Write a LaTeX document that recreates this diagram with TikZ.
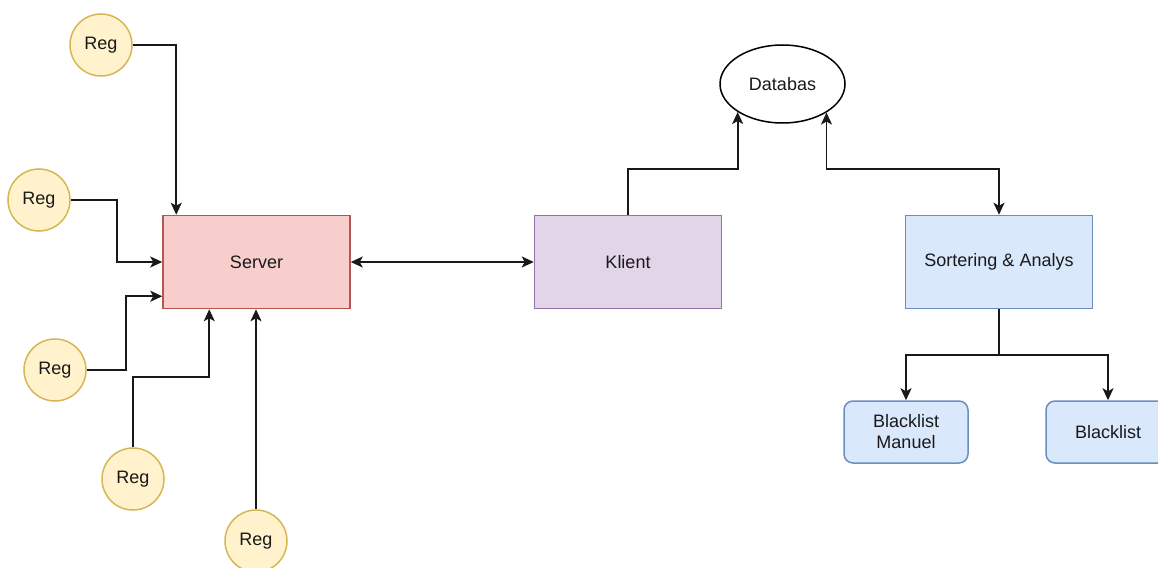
\documentclass[tikz,border=0pt]{standalone}
\usepackage{fontspec}
\setmainfont{Liberation Sans}
\usetikzlibrary{arrows.meta,shapes.geometric,calc}
\definecolor{regfill}{HTML}{FFF2CC}\definecolor{regline}{HTML}{D6B656}
\definecolor{srvfill}{HTML}{F8CECC}\definecolor{srvline}{HTML}{B85450}
\definecolor{klfill}{HTML}{E1D5E7}\definecolor{klline}{HTML}{9673A6}
\definecolor{bluefill}{HTML}{DAE8FC}\definecolor{blueline}{HTML}{6C8EBF}
\begin{document}
\begin{tikzpicture}[x=1pt,y=-1pt,
  every node/.style={font=\fontsize{18}{21}\selectfont, text=black!90},
  reg/.style={circle, draw=regline, fill=regfill, line width=1.5pt, minimum size=62pt, inner sep=0pt},
  box/.style={rectangle, line width=1.5pt, minimum width=187pt, minimum height=93pt, inner sep=0pt},
  leaf/.style={rectangle, rounded corners=9pt, draw=blueline, fill=bluefill, line width=1.5pt,
    minimum width=124pt, minimum height=62pt, inner sep=0pt, align=center},
  tip/.tip={Stealth[length=12pt,width=11pt,inset=3pt]},
  conn/.style={draw=black!90, line width=1.8pt, -tip},
  biconn/.style={draw=black!90, line width=1.8pt, tip-tip}]
\clip (0,0) rectangle (1158,567);
\useasboundingbox (0,0) rectangle (1158,567);

% sensor nodes
\node[reg] (r1) at (101,45) {Reg};
\node[reg] (r2) at (39,200) {Reg};
\node[reg] (r3) at (55,370) {Reg};
\node[reg] (r4) at (133,479) {Reg};
\node[reg] (r5) at (256,541) {Reg};

% main blocks
\node[box, draw=srvline, fill=srvfill] (srv) at (256.5,262) {Server};
\node[box, draw=klline, fill=klfill] (kl) at (628,262) {Klient};
\node[box, draw=blueline, fill=bluefill] (srt) at (999,262) {Sortering \& Analys};
\node[ellipse, draw=black, fill=white, line width=1.5pt, minimum width=125pt, minimum height=78pt, inner sep=0pt] (db) at (782.5,84) {Databas};

% lists
\node[leaf] (bm) at (906,432) {Blacklist\\Manuel};
\node[leaf] (bl) at (1108,432) {Blacklist};

% sensor connections into the server
\draw[conn] (r1.east) -| ([xshift=14pt]srv.north west);
\draw[conn] (r2.east) -- ++(46,0) |- (srv.west);
\draw[conn] (r3.east) -- ++(39,0) |- ($(srv.south west)+(0,-13)$);
\draw[conn] (r4.north) -- ++(0,-70) -| ([xshift=47pt]srv.south west);
\draw[conn] (r5.north) -- (r5.north |- srv.south);

% server <-> client
\draw[biconn] (srv.east) -- (kl.west);

% database links
\draw[conn] (kl.north) -- ++(0,-46) -| (db.212.8);
\draw[biconn] (srt.north) -- ++(0,-46) -| (db.327.2);

% analysis output
\draw[conn] (srt.south) -- ++(0,46) -| (bm.north);
\draw[conn] (srt.south) -- ++(0,46) -| (bl.north);
\end{tikzpicture}
\end{document}
